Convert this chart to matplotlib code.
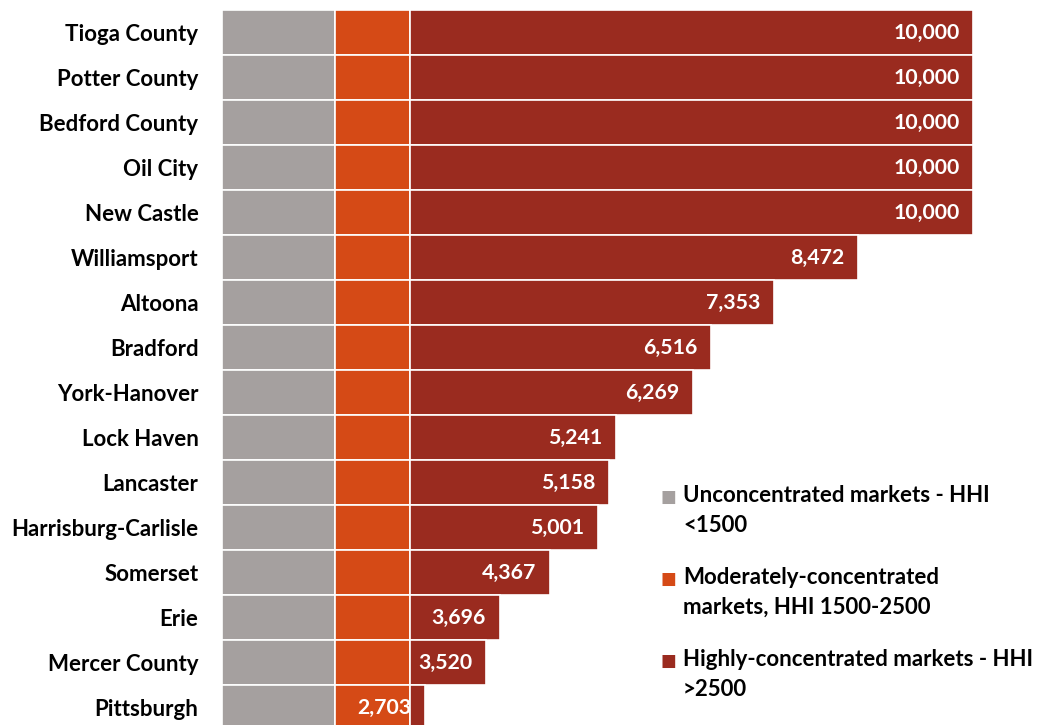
import matplotlib.pyplot as plt

plt.rcParams['font.family'] = ['Lato', 'DejaVu Sans']

markets = ["Tioga County", "Potter County", "Bedford County", "Oil City", "New Castle",
           "Williamsport", "Altoona", "Bradford", "York-Hanover", "Lock Haven",
           "Lancaster", "Harrisburg-Carlisle", "Somerset", "Erie", "Mercer County",
           "Pittsburgh"]
hhi = [10000, 10000, 10000, 10000, 10000, 8472, 7353, 6516, 6269, 5241,
       5158, 5001, 4367, 3696, 3520, 2703]

bands = [0, 1500, 2500]
band_labels = ["Unconcentrated markets - HHI\n<1500",
               "Moderately-concentrated\nmarkets, HHI 1500-2500",
               "Highly-concentrated markets - HHI\n>2500"]
colors = ["#A5A09F", "#D54A16", "#9A2B1F"]

fig = plt.figure(figsize=(10.39, 7.25), dpi=100)
ax = fig.add_axes([222 / 1039, -5 / 725, 751 / 1039, 720 / 725])

y = list(range(len(markets)))
for i, lo in enumerate(bands):
    hi = bands[i + 1] if i + 1 < len(bands) else None
    widths = [(min(v, hi) if hi else v) - lo for v in hhi]
    ax.barh(y, widths, left=lo, height=1.0, color=colors[i],
            edgecolor="white", linewidth=1.2)

for yi, v in zip(y, hhi):
    ax.text(v - 180, yi, f"{v:,}", ha="right", va="center",
            color="white", fontsize=15.3, fontweight="bold")

ax.set_xlim(0, 10000)
ax.set_ylim(len(markets) - 0.5, -0.5)
ax.set_yticks(y)
ax.set_yticklabels(markets, fontsize=16, fontweight="bold")
ax.tick_params(axis="y", length=0, pad=17)
ax.set_xticks([])
for s in ax.spines.values():
    s.set_visible(False)

# legend, square aligned with the first line of each label
leg_top = [497, 579, 661]
for c, lab, ty in zip(colors, band_labels, leg_top):
    fig.text(660 / 1039, 1 - ty / 725, "\u25A0", color=c, fontsize=12,
             va="center", ha="left", family="DejaVu Sans")
    fig.text(683 / 1039, 1 - (ty - 12) / 725, lab, fontsize=16,
             fontweight="bold", va="top", ha="left", linespacing=1.5)

fig.savefig("out.png", dpi=100)
